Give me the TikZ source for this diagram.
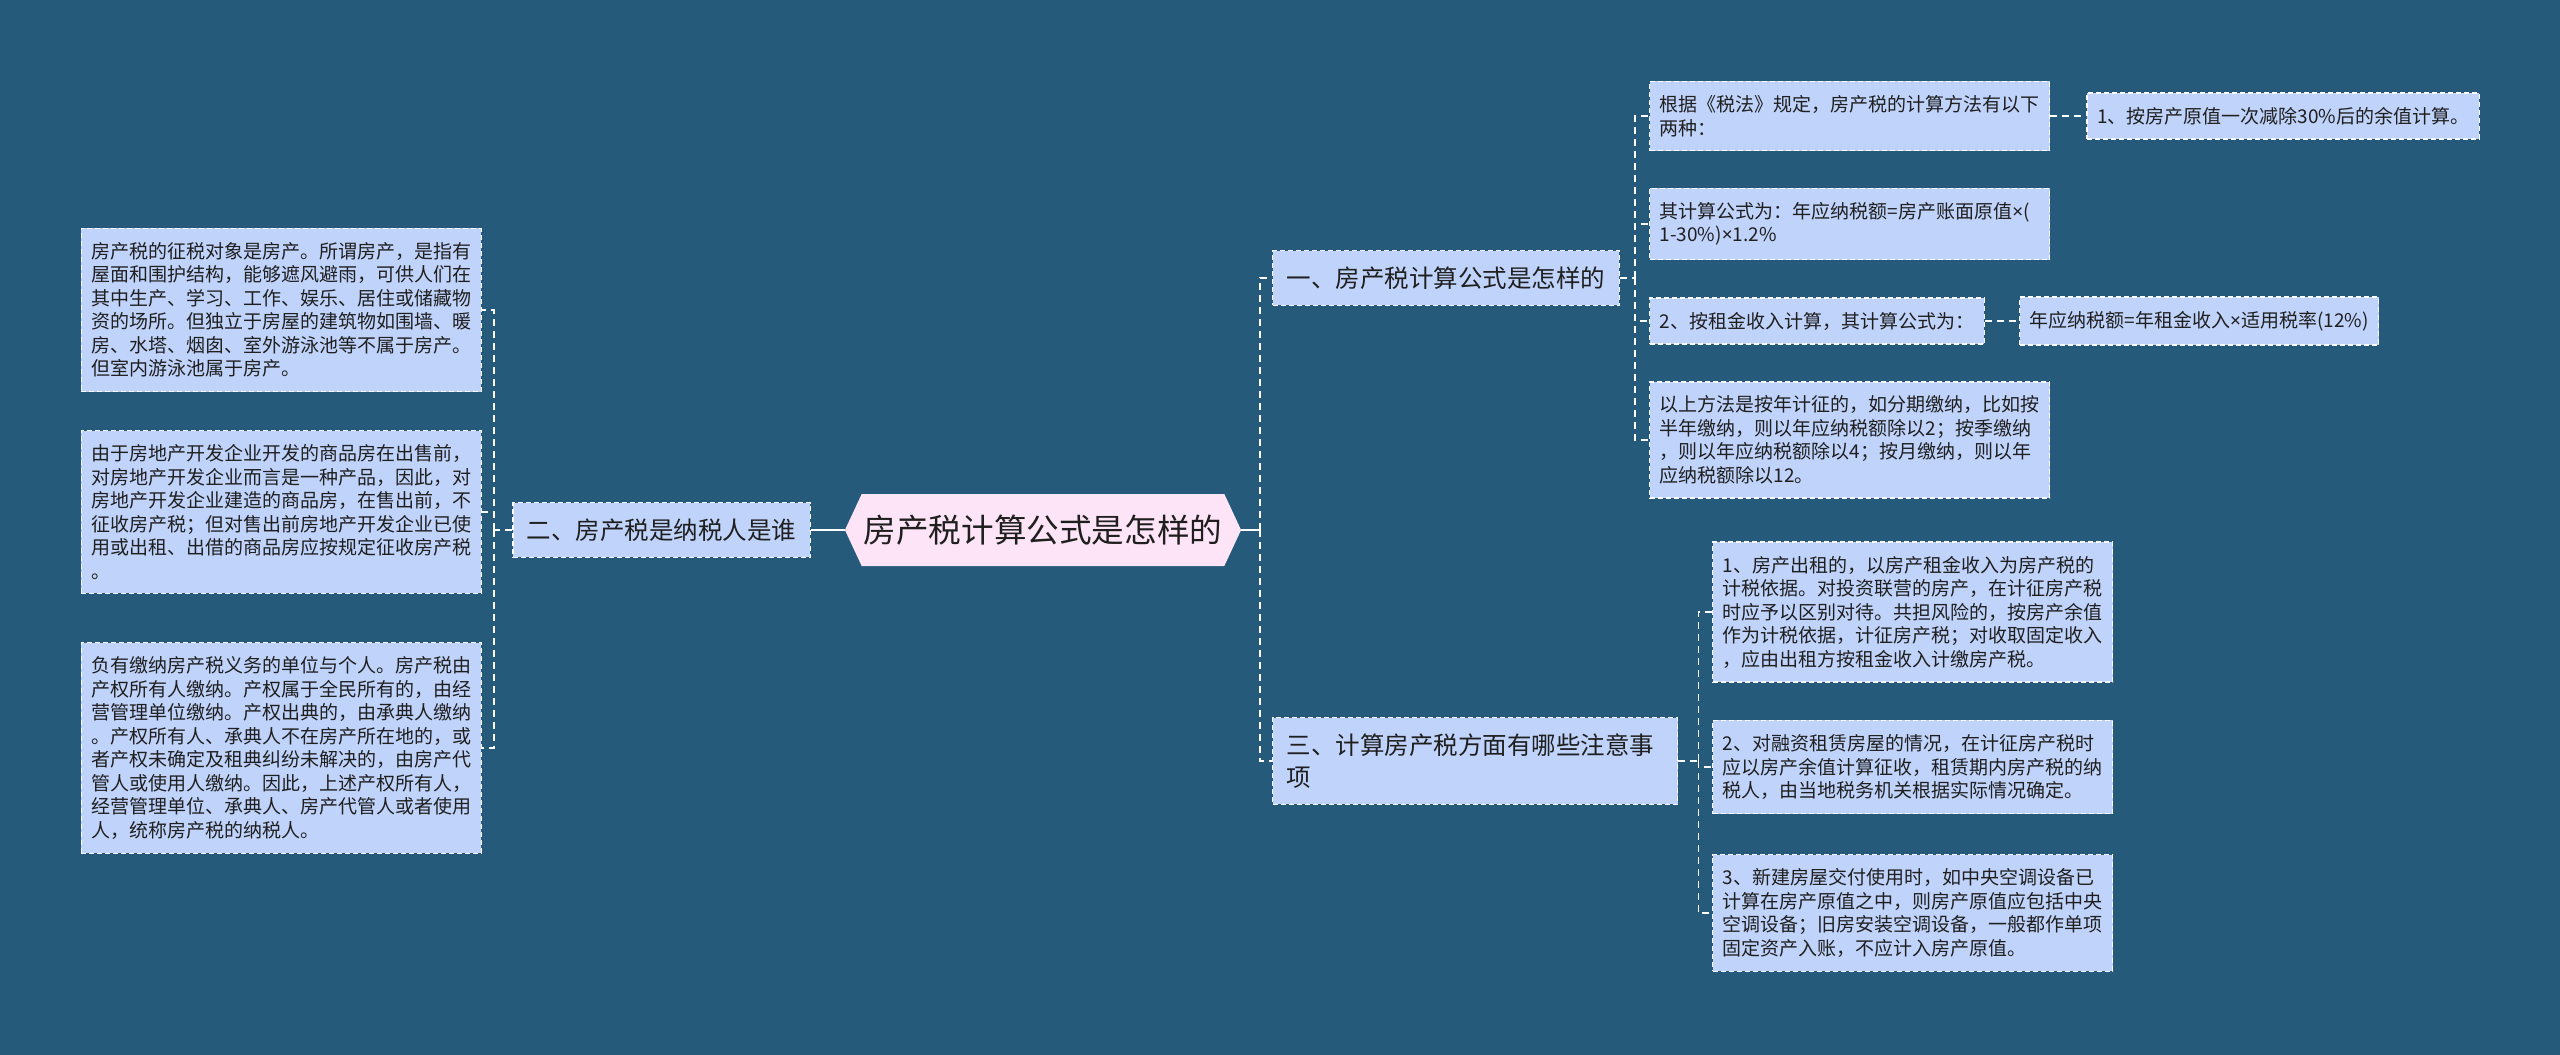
\documentclass[tikz,border=0pt]{standalone}
\usepackage{fontspec}
\newfontfamily\cjk{Noto Sans CJK SC}
\newfontfamily\latn{Noto Sans}
\newcommand{\mul}{{\latn ×}}
\usetikzlibrary{positioning, shapes.symbols}
\definecolor{bgblue}{RGB}{37,90,123}
\definecolor{leaffill}{HTML}{C0D3FB}
\definecolor{rootfill}{HTML}{FDE4F6}
\definecolor{inkdark}{HTML}{1F1F1F}

\begin{document}
\begin{tikzpicture}[x=1pt, y=-1pt,
  leaf/.style={draw=white, fill=leaffill, text=inkdark, line width=1.4pt,
               dash pattern=on 5pt off 3pt, align=left, inner xsep=10pt,
               inner ysep=14pt, font=\cjk\fontsize{19}{23.5}\selectfont},
  leafw/.style={leaf, text width=380pt},
  branch/.style={leaf, inner xsep=14pt, inner ysep=16pt,
                 font=\cjk\fontsize{24.5}{32}\selectfont},
  rootbox/.style={signal, signal to=west and east, signal pointer angle=130,
                  fill=rootfill, text=inkdark, minimum height=72pt,
                  inner xsep=2pt, inner ysep=0pt,
                  font=\cjk\fontsize{32.6}{38}\selectfont},
  link/.style={draw=white, line width=1.8pt, dash pattern=on 7pt off 5pt},
  trunk/.style={draw=white, line width=2.2pt}]
\fill[bgblue] (0,0) rectangle (2560,1055);

\node[rootbox] (root) at (1043,530) {房产税计算公式是怎样的};

\node[branch, anchor=east] (b2) at (811,530) {二、房产税是纳税人是谁};
\node[branch, anchor=west] (b1) at (1272,278) {一、房产税计算公式是怎样的};
\node[branch, anchor=west, text width=377pt] (b3) at (1272,761)
  {三、计算房产税方面有哪些注意事\\项};

\node[leafw, anchor=east] (l1) at (482,310)
  {房产税的征税对象是房产。所谓房产，是指有\\屋面和围护结构，能够遮风避雨，可供人们在\\其中生产、学习、工作、娱乐、居住或储藏物\\资的场所。但独立于房屋的建筑物如围墙、暖\\房、水塔、烟囱、室外游泳池等不属于房产。\\但室内游泳池属于房产。};
\node[leafw, anchor=east] (l2) at (482,512)
  {由于房地产开发企业开发的商品房在出售前，\\对房地产开发企业而言是一种产品，因此，对\\房地产开发企业建造的商品房，在售出前，不\\征收房产税；但对售出前房地产开发企业已使\\用或出租、出借的商品房应按规定征收房产税\\。};
\node[leafw, anchor=east] (l3) at (482,748)
  {负有缴纳房产税义务的单位与个人。房产税由\\产权所有人缴纳。产权属于全民所有的，由经\\营管理单位缴纳。产权出典的，由承典人缴纳\\。产权所有人、承典人不在房产所在地的，或\\者产权未确定及租典纠纷未解决的，由房产代\\管人或使用人缴纳。因此，上述产权所有人，\\经营管理单位、承典人、房产代管人或者使用\\人，统称房产税的纳税人。};

\node[leafw, anchor=west] (c1) at (1649,116)
  {根据《税法》规定，房产税的计算方法有以下\\两种：};
\node[leaf, right=36pt of c1] (c1a) {1、按房产原值一次减除30\%后的余值计算。};
\node[leafw, anchor=west] (c2) at (1649,224)
  {其计算公式为：年应纳税额=房产账面原值\mul{}(\\1-30\%)\mul{}1.2\%};
\node[leaf, anchor=west] (c3) at (1649,321) {2、按租金收入计算，其计算公式为：};
\node[leaf, right=34pt of c3] (c3a) {年应纳税额=年租金收入\mul{}适用税率(12\%)};
\node[leafw, anchor=west] (c4) at (1649,440)
  {以上方法是按年计征的，如分期缴纳，比如按\\半年缴纳，则以年应纳税额除以2；按季缴纳\\，则以年应纳税额除以4；按月缴纳，则以年\\应纳税额除以12。};

\node[leafw, anchor=west] (d1) at (1712,612)
  {1、房产出租的，以房产租金收入为房产税的\\计税依据。对投资联营的房产，在计征房产税\\时应予以区别对待。共担风险的，按房产余值\\作为计税依据，计征房产税；对收取固定收入\\，应由出租方按租金收入计缴房产税。};
\node[leafw, anchor=west] (d2) at (1712,767)
  {2、对融资租赁房屋的情况，在计征房产税时\\应以房产余值计算征收，租赁期内房产税的纳\\税人，由当地税务机关根据实际情况确定。};
\node[leafw, anchor=west] (d3) at (1712,913)
  {3、新建房屋交付使用时，如中央空调设备已\\计算在房产原值之中，则房产原值应包括中央\\空调设备；旧房安装空调设备，一般都作单项\\固定资产入账，不应计入房产原值。};

\draw[trunk] (root.west) -- (b2.east);
\draw[trunk] (root.east) -- ++(19,0) coordinate (rb);
\foreach \n in {b1,b3} \draw[link] (rb) |- (\n.west);

\draw[link] (b2.west) -- ++(-18,0) coordinate (lb);
\foreach \n in {l1,l2,l3} \draw[link] (lb) |- (\n.east);

\draw[link] (b1.east) -- ++(15,0) coordinate (ub);
\foreach \n in {c1,c2,c3,c4} \draw[link] (ub) |- (\n.west);
\draw[link] (c1) -- (c1a);
\draw[link] (c3) -- (c3a);

\draw[link] (b3.east) -- ++(20,0) coordinate (db);
\foreach \n in {d1,d2,d3} \draw[link] (db) |- (\n.west);
\end{tikzpicture}
\end{document}
